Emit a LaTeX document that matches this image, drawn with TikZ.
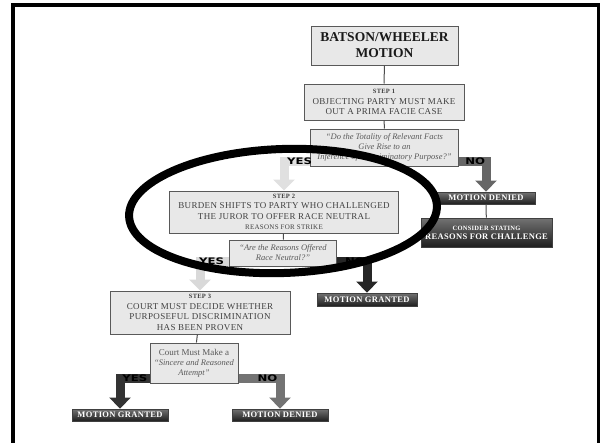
\documentclass[tikz,border=0pt]{standalone}
\usepackage{fontspec}
\setmainfont{Liberation Serif}
\newfontfamily\capsfont[LetterSpace=4]{Liberation Serif}
\newfontfamily\tagfont[FakeStretch=1.3]{DejaVu Sans}
\usetikzlibrary{arrows.meta}

\begin{document}
\begin{tikzpicture}[x=1pt,y=-1pt,
  box/.style={draw=black!65,line width=1pt,fill=black!9,align=center,inner sep=0pt,text=black!75,
    font=\capsfont\fontsize{9}{10.5}\selectfont},
  quest/.style={box,text=black!65,font=\itshape\fontsize{8.5}{10}\selectfont},
  darkbox/.style={draw=black!75,line width=0.8pt,top color=black!55,bottom color=black!88,text=white,
    align=center,inner sep=0pt,font=\capsfont\bfseries\fontsize{8.5}{9}\selectfont},
  link/.style={draw=black!70,line width=1pt},
  choice/.style={line width=9pt,-{Triangle[width=21pt,length=11pt]}},
  tag/.style={font=\tagfont\bfseries\fontsize{9}{9}\selectfont,text=black,inner sep=0pt}]
\useasboundingbox (0,0) rectangle (600,442);
\fill[white] (0,0) rectangle (600,442);
\draw[line width=4pt] (13,450) -- (13,5) -- (598.5,5) -- (598.5,450);

\node[box,minimum width=147,minimum height=39,text=black!90,font=\bfseries\fontsize{13.5}{16}\selectfont] (motion) at (384.5,45.5) {BATSON/WHEELER\\MOTION};
\node[box,minimum width=160,minimum height=36] (step1) at (384,102) {{\bfseries\fontsize{6.5}{8}\selectfont STEP 1}\\OBJECTING PARTY MUST MAKE\\OUT A PRIMA FACIE CASE};
\node[quest,minimum width=148,minimum height=37] (q1) at (384.5,147.5) {``Do the Totality of Relevant Facts\\Give Rise to an\\Inference of Discriminatory Purpose?''};

\node[box,minimum width=229,minimum height=42] (step2) at (284,212) {{\bfseries\fontsize{6.5}{8}\selectfont STEP 2}\\BURDEN SHIFTS TO PARTY WHO CHALLENGED\\THE JUROR TO OFFER RACE NEUTRAL\\{\fontsize{7}{8}\selectfont REASONS FOR STRIKE}};
\node[quest,minimum width=107,minimum height=26] (q2) at (283,253) {``Are the Reasons Offered\\Race Neutral?''};

\node[box,minimum width=180,minimum height=43] (step3) at (200,312.5) {{\bfseries\fontsize{6.5}{8}\selectfont STEP 3}\\COURT MUST DECIDE WHETHER\\PURPOSEFUL DISCRIMINATION\\HAS BEEN PROVEN};
\node[quest,minimum width=88,minimum height=40] (q3) at (194,363) {{\upshape\fontsize{9}{11}\selectfont Court Must Make a}\\``Sincere and Reasoned\\Attempt''};

\node[darkbox,minimum width=98,minimum height=12] (denied1) at (486,198) {MOTION DENIED};
\node[darkbox,minimum width=131,minimum height=29] (consider) at (486.5,232.5) {{\fontsize{6.5}{8}\selectfont CONSIDER STATING}\\REASONS FOR CHALLENGE};
\node[darkbox,minimum width=100,minimum height=13] (granted1) at (367,299.5) {MOTION GRANTED};
\node[darkbox,minimum width=96,minimum height=12] (granted2) at (120,415) {MOTION GRANTED};
\node[darkbox,minimum width=96,minimum height=12] (denied2) at (280,415) {MOTION DENIED};

\draw[link] (motion) -- (step1);
\draw[link] (step1) -- (q1);
\draw[link] (step2) -- (q2);
\draw[link] (step3) -- (q3);
\draw[link] (denied1) -- (consider);

\draw[choice,black!12] ([yshift=5pt]q1.south west) -| (step2.north) node[tag,pos=0.2] {YES};
\draw[choice,black!60] ([yshift=5pt]q1.south east) -| (denied1.north) node[tag,pos=0.3] {NO};
\draw[choice,black!15] ([yshift=5pt]q2.south west) -| (step3.north) node[tag,pos=0.3] {YES};
\draw[choice,black!85] ([yshift=5pt]q2.south east) -| (granted1.north) node[tag,pos=0.3] {NO};
\draw[choice,black!80] ([yshift=5pt]q3.south west) -| (granted2.north) node[tag,pos=0.25] {YES};
\draw[choice,black!55] ([yshift=5pt]q3.south east) -| (denied2.north) node[tag,pos=0.35] {NO};

\draw[line width=8pt,rotate around={2:(283,211)}] (283,211) ellipse [x radius=154pt,y radius=62pt];
\end{tikzpicture}
\end{document}
